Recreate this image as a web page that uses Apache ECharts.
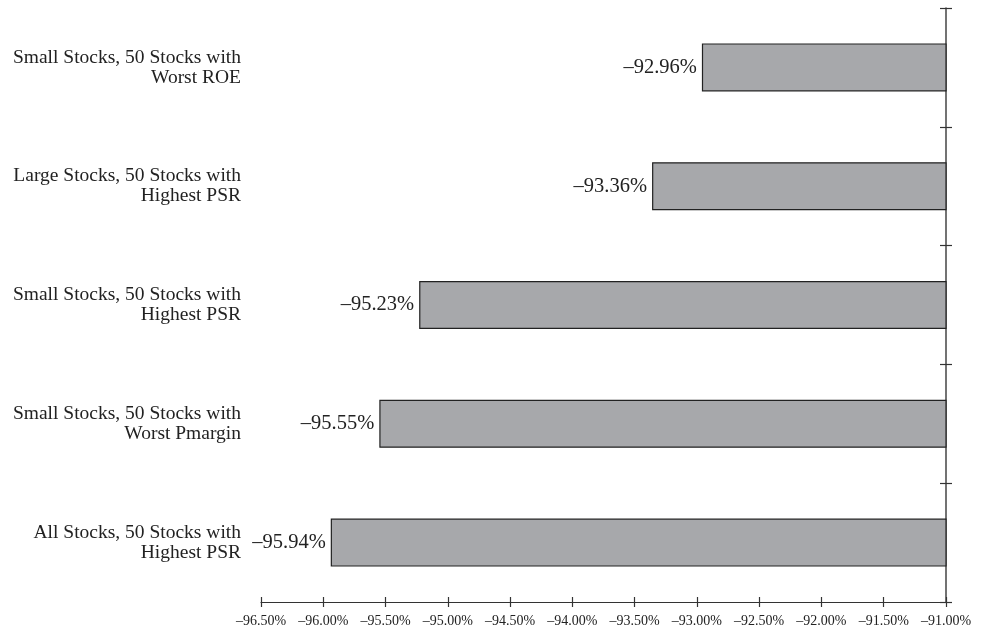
<!DOCTYPE html>
<html>
<head>
<meta charset="utf-8">
<script src="https://cdn.jsdelivr.net/npm/echarts@6/dist/echarts.min.js"></script>
<style>html,body{margin:0;padding:0;background:#fff}#c{width:991px;height:635px}</style>
</head>
<body>
<div id="c"></div>
<script>
const categories = [
  "Small Stocks, 50 Stocks with\nWorst ROE",
  "Large Stocks, 50 Stocks with\nHighest PSR",
  "Small Stocks, 50 Stocks with\nHighest PSR",
  "Small Stocks, 50 Stocks with\nWorst Pmargin",
  "All Stocks, 50 Stocks with\nHighest PSR"
];
const values = [-92.96, -93.36, -95.23, -95.55, -95.94];
const xMin = -96.5, xMax = -91.0, xStep = 0.5;

const FONT = '"Liberation Serif", "DejaVu Serif", serif';
const fmt = v => '\u2013' + Math.abs(v).toFixed(2) + '%';

const chart = echarts.init(document.getElementById('c'), null, {renderer: 'canvas'});
chart.setOption({
  animation: false,
  grid: {left: 261, right: 45, top: 8, bottom: 33},
  xAxis: [
    {
      type: 'value', min: xMin, max: xMax, interval: xStep, position: 'bottom',
      splitLine: {show: false},
      axisLine: {show: true, lineStyle: {color: '#333', width: 1.2}},
      axisTick: {show: true, length: 5, lineStyle: {color: '#333', width: 1.2}},
      axisLabel: {formatter: fmt, color: '#222', fontFamily: FONT, fontSize: 14, margin: 12}
    },
    {
      type: 'value', min: xMin, max: xMax, interval: xStep, position: 'bottom',
      splitLine: {show: false},
      axisLine: {show: false},
      axisTick: {show: true, inside: true, length: 5, lineStyle: {color: '#333', width: 1.2}},
      axisLabel: {show: false}
    }
  ],
  yAxis: [
    {
      type: 'category', data: categories, inverse: true, position: 'right',
      axisLine: {show: true, lineStyle: {color: '#444', width: 1.5}},
      axisTick: {show: true, length: 6, lineStyle: {color: '#333', width: 1.2}},
      axisLabel: {show: false}
    },
    {
      type: 'category', data: categories, inverse: true, position: 'right',
      axisLine: {show: false},
      axisTick: {show: true, inside: true, length: 6, lineStyle: {color: '#333', width: 1.2}},
      axisLabel: {show: false}
    },
    {
      type: 'category', data: categories, inverse: true, position: 'left',
      axisLine: {show: false},
      axisTick: {show: false},
      axisLabel: {color: '#222', fontFamily: FONT, fontSize: 19.5, lineHeight: 20, align: 'right', margin: 20}
    }
  ],
  series: [{
    type: 'bar',
    data: values,
    xAxisIndex: 0,
    yAxisIndex: 0,
    barWidth: 48,
    itemStyle: {color: '#a7a8ab', borderColor: '#222', borderWidth: 1.2},
    label: {show: true, position: 'left', distance: 5, formatter: p => fmt(p.value), color: '#222', fontFamily: FONT, fontSize: 20.5}
  }]
});
</script>
</body>
</html>
